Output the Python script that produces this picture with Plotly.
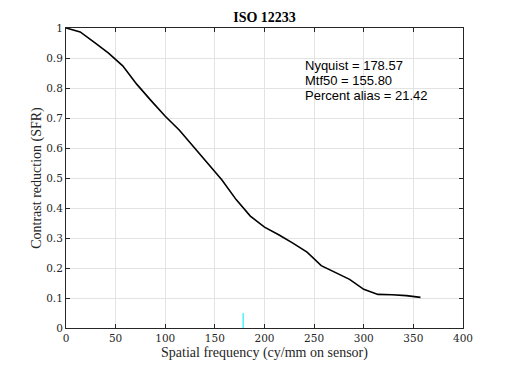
import plotly.graph_objects as go

# Spatial frequency samples (cy/mm on sensor)
freq = [0.0, 14.29, 28.57, 42.86, 57.14, 71.43, 85.71, 100.0, 114.29, 128.57,
        142.86, 157.14, 171.43, 185.71, 200.0, 214.29, 228.57, 242.86, 257.14,
        271.43, 285.71, 300.0, 314.29, 328.57, 342.86, 357.14]
# Contrast reduction (SFR)
sfr = [1.0, 0.987, 0.952, 0.916, 0.874, 0.812, 0.758, 0.706, 0.659, 0.604,
       0.551, 0.493, 0.428, 0.373, 0.336, 0.311, 0.283, 0.253, 0.208,
       0.186, 0.162, 0.129, 0.112, 0.111, 0.108, 0.102]

nyquist = 178.57
mtf50 = 155.80
percent_alias = 21.42
nyquist_marker = [0.0, 0.05]

x_ticks = [0, 50, 100, 150, 200, 250, 300, 350, 400]
y_ticks = [0, 0.1, 0.2, 0.3, 0.4, 0.5, 0.6, 0.7, 0.8, 0.9, 1.0]
y_tick_text = ["0", "0.1", "0.2", "0.3", "0.4", "0.5", "0.6", "0.7", "0.8", "0.9", "1"]

serif_tick = "DejaVu Serif"
serif = "Liberation Serif"
sans = "Liberation Sans"

# the page body has an 8px default margin, so the figure is sized to fit inside it
W, H = 496, 353

fig = go.Figure()
fig.add_trace(go.Scatter(x=freq, y=sfr, mode="lines",
                         line=dict(color="black", width=1.6), showlegend=False))
fig.add_trace(go.Scatter(x=[nyquist, nyquist], y=nyquist_marker, mode="lines",
                         line=dict(color="#55f5f5", width=1.6), showlegend=False))

axis_common = dict(
    showline=True, linecolor="#262626", linewidth=1, mirror="ticks",
    ticks="inside", ticklen=4, tickcolor="#262626", tickwidth=1,
    showgrid=True, gridcolor="#e3e3e3", gridwidth=1, zeroline=False,
    tickfont=dict(family=serif_tick, size=10.5, color="#262626"),
    automargin=False,
)

fig.update_layout(
    width=W, height=H,
    margin=dict(l=58, r=41, t=20, b=33),
    paper_bgcolor="white", plot_bgcolor="white",
    title=dict(text="<b>ISO 12233</b>", x=(264.5 - 8) / W, xanchor="center",
               y=1 - 9 / H, yanchor="middle", yref="container",
               font=dict(family=serif, size=14, color="black")),
    xaxis=dict(range=[0, 400], tickvals=x_ticks, ticktext=[str(v) for v in x_ticks],
               title=dict(text="Spatial frequency (cy/mm on sensor)", standoff=5,
                          font=dict(family=serif, size=14, color="#262626")),
               **axis_common),
    yaxis=dict(range=[0, 1], tickvals=y_ticks, ticktext=y_tick_text,
               title=dict(text="Contrast reduction (SFR)", standoff=1,
                          font=dict(family=serif, size=14, color="#262626")),
               **axis_common),
)

# white box behind the statistics text
fig.add_shape(type="rect", xref="paper", yref="paper",
              x0=0.589, x1=0.909, y0=0.69, y1=0.937,
              fillcolor="white", line=dict(width=0), layer="between")

stats = [f"Nyquist = {nyquist:.2f}", f"Mtf50 = {mtf50:.2f}", f"Percent alias = {percent_alias:.2f}"]
ys = [0.875, 0.825, 0.774]
for t, yy in zip(stats, ys):
    fig.add_annotation(text=t, xref="paper", yref="paper", x=0.598, y=yy,
                       xanchor="left", yanchor="middle", showarrow=False,
                       font=dict(family=sans, size=13, color="black"))

fig.write_html("out.html")
